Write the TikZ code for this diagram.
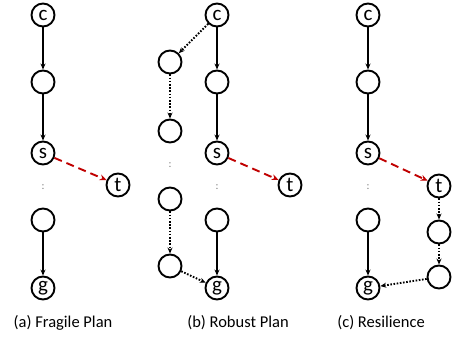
\documentclass[tikz,border=0pt]{standalone}
\usepackage{fontspec}
\setmainfont{Carlito}
\usetikzlibrary{arrows.meta}
\definecolor{darkred}{RGB}{192,0,0}
\tikzset{
  st/.style={circle,draw=black,line width=1.9pt,minimum size=23pt,inner sep=0pt,font=\fontsize{21}{21}\selectfont},
  solidarr/.style={line width=1.7pt,-{Stealth[length=6pt,width=5pt]}},
  dotarr/.style={line width=1.9pt,dash pattern=on 1.6pt off 1.6pt,-{Stealth[length=6pt,width=5pt]}},
  redarr/.style={line width=1.9pt,darkred,dash pattern=on 8pt off 5pt,-{Stealth[length=7pt,width=6pt]}},
  dots/.style={text=gray,font=\fontsize{11}{11}\selectfont,inner sep=0pt},
  captext/.style={font=\fontsize{16.5}{16.5}\selectfont,inner sep=0pt}
}
\begin{document}
\begin{tikzpicture}[x=1pt,y=-1pt]
\useasboundingbox (0,0) rectangle (454,339);
% (a)
\node[st] (ac) at (43,15) {c};
\node[st] (a1) at (43,82) {};
\node[st] (as) at (43,153) {s};
\node[st] (at) at (118,185) {t};
\node[dots] (ad) at (43,187) {:};
\node[st] (a2) at (43,220) {};
\node[st] (ag) at (43,288) {g};
\draw[solidarr] (ac) -- (a1);
\draw[solidarr] (a1) -- (as);
\draw[solidarr] (a2) -- (ag);
\draw[redarr] (as) -- (at);
\node[captext] (capa) at (63,323) {(a) Fragile Plan};
% (b)
\node[st] (bc) at (217,15) {c};
\node[st] (b1) at (217,82) {};
\node[st] (bs) at (217,153) {s};
\node[st] (bt) at (290,185) {t};
\node[dots] (bd) at (217,187) {:};
\node[st] (b2) at (217,220) {};
\node[st] (bg) at (217,288) {g};
\node[st] (bl1) at (170,62) {};
\node[st] (bl2) at (170,131) {};
\node[dots] (bld) at (170,165) {:};
\node[st] (bl3) at (170,199) {};
\node[st] (bl4) at (170,266) {};
\draw[solidarr] (bc) -- (b1);
\draw[solidarr] (b1) -- (bs);
\draw[solidarr] (b2) -- (bg);
\draw[redarr] (bs) -- (bt);
\draw[dotarr] (bc) -- (bl1);
\draw[dotarr] (bl1) -- (bl2);
\draw[dotarr] (bl3) -- (bl4);
\draw[dotarr] (bl4) -- (bg);
\node[captext] (capb) at (238,323) {(b) Robust Plan};
% (c)
\node[st] (cc) at (368,15) {c};
\node[st] (c1) at (368,82) {};
\node[st] (cs) at (368,153) {s};
\node[st] (ct) at (439,186) {t};
\node[dots] (cd) at (368,187) {:};
\node[st] (c2) at (368,220) {};
\node[st] (cg) at (368,288) {g};
\node[st] (cr1) at (439,232) {};
\node[st] (cr2) at (439,277) {};
\draw[solidarr] (cc) -- (c1);
\draw[solidarr] (c1) -- (cs);
\draw[solidarr] (c2) -- (cg);
\draw[redarr] (cs) -- (ct);
\draw[dotarr] (ct) -- (cr1);
\draw[dotarr] (cr1) -- (cr2);
\draw[dotarr] (cr2) -- (cg);
\node[captext] (capc) at (381,323) {(c) Resilience};
\end{tikzpicture}
\end{document}
